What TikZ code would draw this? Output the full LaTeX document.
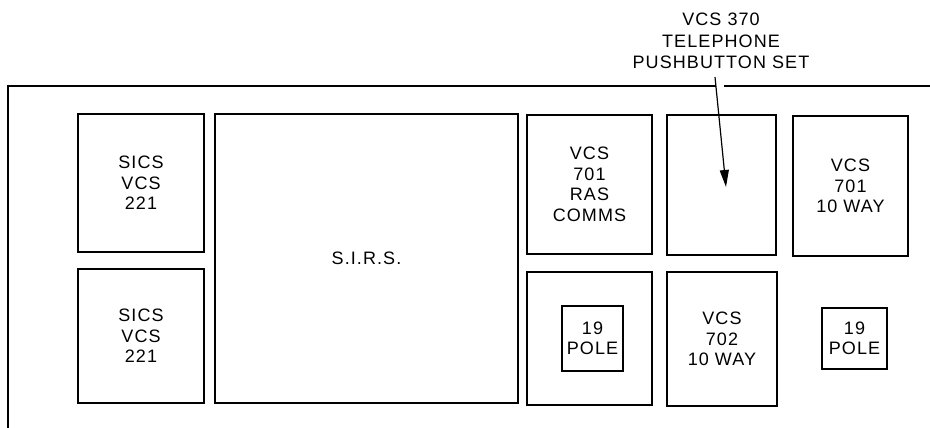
\documentclass[tikz,border=0pt]{standalone}
\usepackage{fontspec}
\setmainfont{Liberation Sans}[LetterSpace=6]
\usetikzlibrary{arrows.meta}
\begin{document}
\begin{tikzpicture}[x=1pt,y=-1pt,
  box/.style={draw, line width=1.8pt, inner sep=0pt, align=center,
    font=\fontsize{18}{20.5}\selectfont},
  frame/.style={line width=1.2pt},
  lbl/.style={align=center, inner sep=0pt, font=\fontsize{18}{21.5}\selectfont},
  pointer/.style={line width=1.2pt, -{Triangle[length=17pt,width=9pt]}}]
\useasboundingbox (0,0) rectangle (930,428);
% frame
\draw[frame] (8,428) -- (8,86) -- (716,86);
\draw[frame] (724,86) -- (930,86);
% boxes
\node[box, minimum width=126pt, minimum height=138pt] (sics1) at (141,183) {SICS\\VCS\\221};
\node[box, minimum width=126pt, minimum height=134pt] (sics2) at (141,336) {SICS\\VCS\\221};
\node[box, minimum width=303pt, minimum height=289pt] (sirs) at (366.5,258.5) {S.I.R.S.};
\node[box, minimum width=125pt, minimum height=139pt] (ras) at (589.5,184.5) {VCS\\701\\RAS\\COMMS};
\node[box, minimum width=109pt, minimum height=140pt] (push) at (721.5,185) {};
\node[box, minimum width=115pt, minimum height=140pt] (vcsa) at (850.5,186) {VCS\\701\\10 WAY};
\node[box, minimum width=125pt, minimum height=133pt] (polebox) at (589.5,338.5) {};
\node[box, minimum width=61pt, minimum height=65pt] (polea) at (592.5,338.5) {19\\POLE};
\node[box, minimum width=110pt, minimum height=134pt] (vcsb) at (722,339) {VCS\\702\\10 WAY};
\node[box, minimum width=65pt, minimum height=61pt] (poleb) at (854.5,338.5) {19\\POLE};
% label and pointer
\node[lbl] (tel) at (721,41) {VCS 370\\TELEPHONE\\PUSHBUTTON SET};
\coordinate (a0) at (715,77);
\coordinate (tip) at (726,187);
\draw[pointer] (a0) -- (tip);
\end{tikzpicture}
\end{document}
